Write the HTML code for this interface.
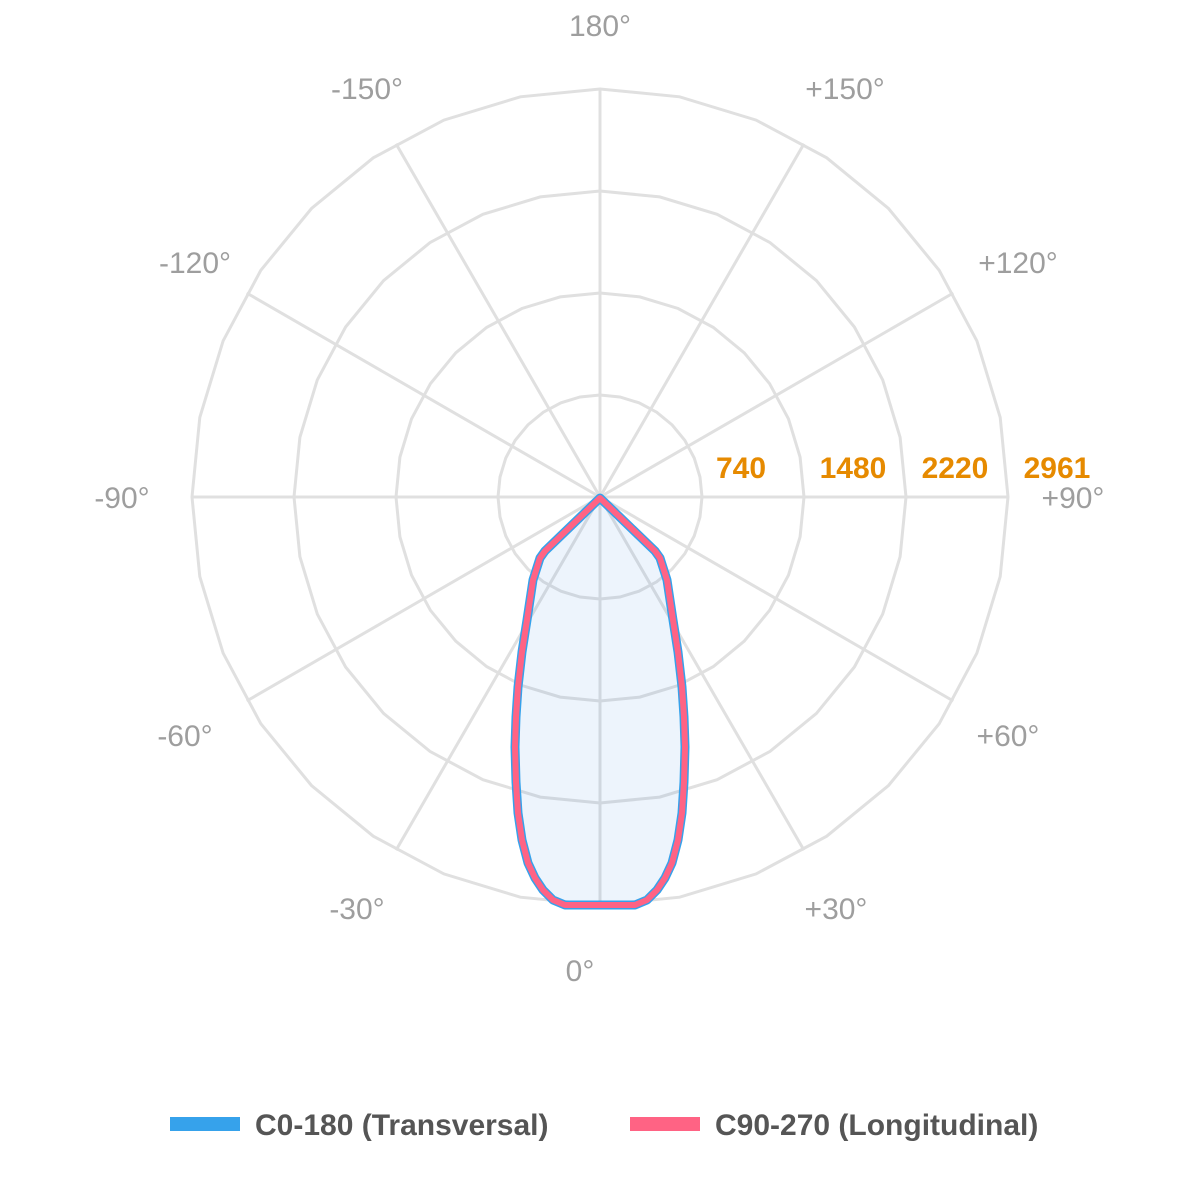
<!DOCTYPE html>
<html><head><style>body{margin:0;background:#fff}svg{display:block}</style></head><body>
<svg id="s" width="1200" height="1200" viewBox="0 0 1200 1200" xmlns="http://www.w3.org/2000/svg" font-family="Liberation Sans, sans-serif">
<g id="grid" stroke="#e0e0e0" stroke-width="3" fill="none"></g>
<g id="shape"></g>
<g font-size="30" fill="#9e9e9e" text-anchor="middle">
<text x="600" y="36">180°</text>
<text x="845" y="99">+150°</text>
<text x="1018" y="273">+120°</text>
<text x="1073" y="508">+90°</text>
<text x="1008" y="746">+60°</text>
<text x="836" y="919">+30°</text>
<text x="580" y="981">0°</text>
<text x="357" y="919">-30°</text>
<text x="185" y="746">-60°</text>
<text x="122" y="508">-90°</text>
<text x="195" y="273">-120°</text>
<text x="367" y="99">-150°</text>
</g>
<g font-size="30" font-weight="bold" fill="#e68a00" text-anchor="middle">
<text x="741" y="478">740</text>
<text x="853" y="478">1480</text>
<text x="955" y="478">2220</text>
<text x="1057" y="478">2961</text>
</g>
<rect x="170" y="1117" width="70" height="14" fill="#36a2eb"/>
<rect x="630" y="1117" width="70" height="14" fill="#ff6384"/>
<g font-size="30" font-weight="bold" fill="#555">
<text x="255" y="1135">C0-180 (Transversal)</text>
<text x="715" y="1135">C90-270 (Longitudinal)</text>
</g>
</svg>
<script>
var g=document.getElementById('grid'),cx=600,cy=497,h='';
[102,204,306,408].forEach(function(r){var p=[];for(var i=0;i<32;i++){var a=i*Math.PI*2/32;p.push((cx+r*Math.sin(a)).toFixed(1)+','+(cy-r*Math.cos(a)).toFixed(1));}h+='<polygon points="'+p.join(' ')+'"/>';});
for(var k=0;k<12;k++){var a=k*Math.PI/6;h+='<line x1="600" y1="497" x2="'+(cx+408*Math.sin(a)).toFixed(1)+'" y2="'+(cy-408*Math.cos(a)).toFixed(1)+'"/>';}
g.innerHTML=h;
var R=[[600,498],[655,551],[660,558],[667,580],[673,620],[678,652],[682,687],[684,717],[685,747],[684,782],[682,813],[678,840],[672,863],[665,878],[657,890],[647,900],[635,905]];
var pts=R.slice();for(var i=R.length-1;i>=1;i--)pts.push([1200-R[i][0],R[i][1]]);
var d='M'+pts.map(function(p){return p[0]+','+p[1]}).join(' L')+' Z';
document.getElementById('shape').innerHTML='<path d="'+d+'" fill="rgba(54,132,220,0.09)" stroke="#36a2eb" stroke-width="9" stroke-linejoin="round"/><path d="'+d+'" fill="none" stroke="#ff6384" stroke-width="6" stroke-linejoin="round"/>';
</script>
</body></html>
